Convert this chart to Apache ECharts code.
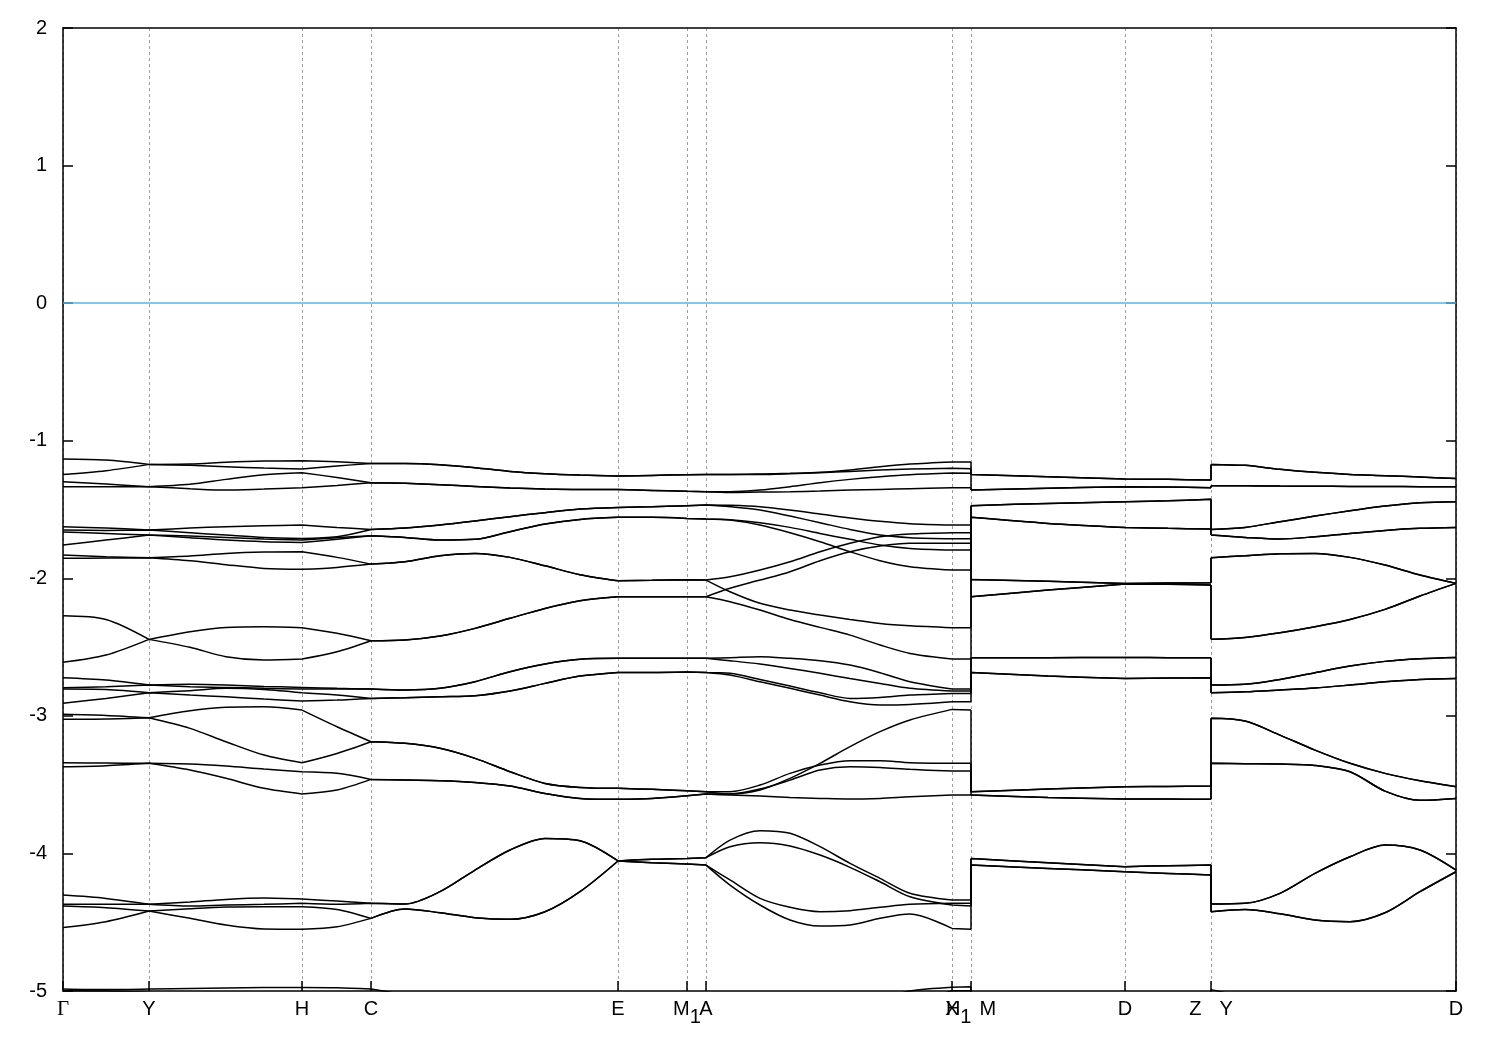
<!DOCTYPE html>
<html><head><meta charset="utf-8">
<script src="https://cdn.jsdelivr.net/npm/echarts@6/dist/echarts.min.js"></script>
<style>html,body{margin:0;padding:0;background:#fff}#chart{width:1500px;height:1050px}</style>
</head><body><div id="chart"></div>
<script>
// k-path distance of every sampled point (jumps repeat the same k)
const kGrid = [0.000,0.043,0.086,0.127,0.163,0.201,0.239,0.274,0.308,
 0.342,0.377,0.412,0.447,0.482,0.517,0.555,0.589,0.624,0.643,
 0.667,0.697,0.727,0.757,0.787,0.817,0.847,0.889,0.908,
 0.908,0.985,1.062,1.105,1.148,
 1.148,1.182,1.217,1.252,1.287,1.322,1.357,1.393];
// indices in kGrid where path segments start/end (high-symmetry points, jumps)
const segmentBreaks = [0,2,6,8,15,17,18,26,27,28,30,32,33,40];
// high-symmetry points
const kTicks = [0.000,0.086,0.239,0.308,0.555,0.624,0.643,0.889,0.908,1.062,1.148,1.393];
const kTickLabels = ['Γ','Y','H','C','E','M_1','A','X','H_1|M','D','Z|Y','D'];
// y axis
const yMin = -5, yMax = 2, yStep = 1;
const fermiLevel = 0;

// energies (eV) of each band at kGrid
const band01=[-1.133,-1.141,-1.172,-1.170,-1.157,-1.148,-1.145,-1.153,-1.165,-1.165,-1.174,-1.196,-1.223,-1.240,-1.250,-1.257,-1.252,-1.247,-1.245,-1.245,-1.242,-1.237,-1.230,-1.213,-1.189,-1.170,-1.155,-1.155,-1.245,-1.262,-1.279,-1.281,-1.286,-1.172,-1.179,-1.208,-1.230,-1.245,-1.254,-1.264,-1.274];
const band02=[-1.245,-1.218,-1.172,-1.179,-1.189,-1.199,-1.206,-1.184,-1.165,-1.165,-1.174,-1.196,-1.223,-1.240,-1.250,-1.257,-1.252,-1.247,-1.245,-1.245,-1.245,-1.240,-1.233,-1.223,-1.213,-1.206,-1.201,-1.203,-1.245,-1.262,-1.279,-1.281,-1.286,-1.172,-1.179,-1.208,-1.230,-1.245,-1.254,-1.264,-1.274];
const band03=[-1.298,-1.315,-1.334,-1.317,-1.281,-1.247,-1.233,-1.267,-1.305,-1.310,-1.320,-1.332,-1.344,-1.351,-1.354,-1.354,-1.361,-1.368,-1.371,-1.371,-1.359,-1.334,-1.305,-1.281,-1.262,-1.247,-1.235,-1.237,-1.359,-1.346,-1.334,-1.337,-1.342,-1.327,-1.328,-1.330,-1.331,-1.332,-1.333,-1.334,-1.335];
const band04=[-1.334,-1.334,-1.334,-1.349,-1.359,-1.351,-1.342,-1.325,-1.305,-1.310,-1.320,-1.332,-1.344,-1.351,-1.354,-1.354,-1.361,-1.368,-1.371,-1.376,-1.373,-1.371,-1.366,-1.359,-1.354,-1.349,-1.342,-1.342,-1.359,-1.346,-1.334,-1.337,-1.342,-1.327,-1.328,-1.330,-1.331,-1.332,-1.333,-1.334,-1.335];
const band05=[-1.625,-1.635,-1.649,-1.635,-1.625,-1.618,-1.613,-1.630,-1.645,-1.635,-1.613,-1.584,-1.552,-1.523,-1.497,-1.485,-1.480,-1.472,-1.468,-1.470,-1.480,-1.504,-1.533,-1.562,-1.586,-1.603,-1.613,-1.613,-1.472,-1.456,-1.443,-1.436,-1.426,-1.645,-1.630,-1.589,-1.548,-1.509,-1.475,-1.451,-1.443];
const band06=[-1.649,-1.652,-1.649,-1.669,-1.686,-1.703,-1.710,-1.698,-1.645,-1.635,-1.613,-1.584,-1.552,-1.523,-1.497,-1.485,-1.480,-1.472,-1.468,-1.480,-1.504,-1.548,-1.596,-1.645,-1.686,-1.705,-1.712,-1.712,-1.472,-1.456,-1.443,-1.436,-1.426,-1.645,-1.630,-1.589,-1.548,-1.509,-1.475,-1.451,-1.443];
const band07=[-1.664,-1.674,-1.686,-1.693,-1.703,-1.715,-1.722,-1.705,-1.691,-1.703,-1.722,-1.717,-1.661,-1.606,-1.572,-1.557,-1.557,-1.565,-1.569,-1.574,-1.596,-1.630,-1.674,-1.717,-1.758,-1.783,-1.795,-1.795,-1.557,-1.601,-1.630,-1.637,-1.642,-1.686,-1.703,-1.715,-1.698,-1.674,-1.652,-1.637,-1.630];
const band08=[-1.758,-1.722,-1.686,-1.705,-1.722,-1.734,-1.739,-1.717,-1.691,-1.703,-1.722,-1.717,-1.661,-1.606,-1.572,-1.557,-1.557,-1.565,-1.569,-1.577,-1.613,-1.669,-1.734,-1.807,-1.872,-1.916,-1.940,-1.940,-1.557,-1.601,-1.630,-1.637,-1.642,-1.686,-1.703,-1.715,-1.698,-1.674,-1.652,-1.637,-1.630];
const band09=[-1.831,-1.843,-1.850,-1.838,-1.819,-1.809,-1.807,-1.848,-1.897,-1.880,-1.836,-1.819,-1.848,-1.909,-1.974,-2.018,-2.015,-2.010,-2.013,-1.989,-1.940,-1.880,-1.807,-1.746,-1.698,-1.678,-1.669,-1.669,-2.008,-2.022,-2.037,-2.035,-2.032,-1.850,-1.836,-1.821,-1.819,-1.848,-1.904,-1.976,-2.037];
const band10=[-1.855,-1.853,-1.850,-1.872,-1.901,-1.928,-1.935,-1.921,-1.897,-1.880,-1.836,-1.819,-1.848,-1.909,-1.974,-2.018,-2.015,-2.010,-2.013,-2.098,-2.182,-2.231,-2.267,-2.299,-2.328,-2.345,-2.359,-2.359,-2.008,-2.022,-2.037,-2.035,-2.032,-1.850,-1.836,-1.821,-1.819,-1.848,-1.904,-1.976,-2.037];
const band11=[-2.272,-2.299,-2.444,-2.388,-2.357,-2.352,-2.359,-2.400,-2.454,-2.449,-2.420,-2.364,-2.291,-2.219,-2.163,-2.134,-2.134,-2.134,-2.134,-2.073,-2.013,-1.952,-1.872,-1.807,-1.766,-1.746,-1.746,-1.746,-2.134,-2.086,-2.042,-2.044,-2.049,-2.444,-2.430,-2.396,-2.352,-2.299,-2.226,-2.129,-2.037];
const band12=[-2.611,-2.558,-2.444,-2.502,-2.570,-2.594,-2.587,-2.534,-2.454,-2.449,-2.420,-2.364,-2.291,-2.219,-2.163,-2.134,-2.134,-2.134,-2.134,-2.170,-2.231,-2.299,-2.357,-2.413,-2.485,-2.546,-2.587,-2.587,-2.134,-2.086,-2.042,-2.044,-2.049,-2.444,-2.430,-2.396,-2.352,-2.299,-2.226,-2.129,-2.037];
const band13=[-2.723,-2.740,-2.776,-2.771,-2.776,-2.786,-2.793,-2.800,-2.805,-2.812,-2.800,-2.752,-2.679,-2.623,-2.589,-2.582,-2.582,-2.582,-2.582,-2.577,-2.570,-2.582,-2.599,-2.631,-2.686,-2.752,-2.805,-2.805,-2.577,-2.577,-2.575,-2.577,-2.577,-2.776,-2.771,-2.735,-2.686,-2.638,-2.604,-2.585,-2.575];
const band14=[-2.795,-2.788,-2.776,-2.788,-2.793,-2.800,-2.805,-2.805,-2.805,-2.812,-2.800,-2.752,-2.679,-2.623,-2.589,-2.582,-2.582,-2.582,-2.582,-2.599,-2.623,-2.655,-2.691,-2.728,-2.764,-2.800,-2.820,-2.820,-2.577,-2.577,-2.575,-2.577,-2.577,-2.776,-2.771,-2.735,-2.686,-2.638,-2.604,-2.585,-2.575];
const band15=[-2.805,-2.808,-2.832,-2.817,-2.800,-2.808,-2.832,-2.849,-2.873,-2.868,-2.861,-2.854,-2.820,-2.764,-2.711,-2.684,-2.684,-2.681,-2.684,-2.691,-2.735,-2.783,-2.832,-2.873,-2.866,-2.849,-2.837,-2.837,-2.684,-2.711,-2.728,-2.725,-2.723,-2.832,-2.825,-2.812,-2.798,-2.776,-2.752,-2.735,-2.728];
const band16=[-2.909,-2.873,-2.832,-2.849,-2.861,-2.878,-2.892,-2.885,-2.873,-2.868,-2.861,-2.854,-2.820,-2.764,-2.711,-2.684,-2.684,-2.681,-2.684,-2.703,-2.752,-2.800,-2.849,-2.897,-2.921,-2.917,-2.897,-2.897,-2.684,-2.711,-2.728,-2.725,-2.723,-2.832,-2.825,-2.812,-2.798,-2.776,-2.752,-2.735,-2.728];
const band17=[-2.989,-2.997,-3.014,-2.963,-2.938,-2.934,-2.958,-3.079,-3.188,-3.200,-3.236,-3.309,-3.406,-3.491,-3.520,-3.527,-3.534,-3.544,-3.551,-3.568,-3.539,-3.454,-3.345,-3.224,-3.115,-3.030,-2.953,-2.958,-3.551,-3.532,-3.515,-3.513,-3.510,-3.018,-3.038,-3.140,-3.249,-3.345,-3.418,-3.472,-3.515];
const band18=[-3.025,-3.023,-3.014,-3.091,-3.188,-3.285,-3.341,-3.273,-3.188,-3.200,-3.236,-3.309,-3.406,-3.491,-3.520,-3.527,-3.534,-3.544,-3.551,-3.551,-3.503,-3.418,-3.358,-3.326,-3.326,-3.341,-3.345,-3.345,-3.551,-3.532,-3.515,-3.513,-3.510,-3.018,-3.038,-3.140,-3.249,-3.345,-3.418,-3.472,-3.515];
const band19=[-3.341,-3.343,-3.345,-3.350,-3.365,-3.387,-3.406,-3.418,-3.462,-3.467,-3.471,-3.484,-3.510,-3.564,-3.600,-3.607,-3.600,-3.580,-3.568,-3.568,-3.532,-3.467,-3.394,-3.370,-3.375,-3.389,-3.401,-3.401,-3.576,-3.593,-3.605,-3.605,-3.607,-3.345,-3.348,-3.350,-3.360,-3.406,-3.547,-3.614,-3.600];
const band20=[-3.370,-3.362,-3.345,-3.394,-3.454,-3.527,-3.568,-3.539,-3.462,-3.467,-3.471,-3.484,-3.510,-3.564,-3.600,-3.607,-3.600,-3.580,-3.568,-3.576,-3.583,-3.593,-3.600,-3.605,-3.600,-3.588,-3.576,-3.576,-3.576,-3.593,-3.605,-3.605,-3.607,-3.345,-3.348,-3.350,-3.360,-3.406,-3.547,-3.614,-3.600];
const band21=[-4.303,-4.327,-4.370,-4.353,-4.334,-4.324,-4.332,-4.346,-4.363,-4.368,-4.278,-4.121,-3.975,-3.891,-3.908,-4.055,-4.043,-4.037,-4.031,-3.903,-3.835,-3.854,-3.951,-4.072,-4.181,-4.290,-4.339,-4.339,-4.036,-4.068,-4.097,-4.089,-4.085,-4.368,-4.363,-4.290,-4.145,-4.024,-3.939,-3.975,-4.121];
const band22=[-4.370,-4.370,-4.370,-4.383,-4.375,-4.370,-4.363,-4.370,-4.363,-4.368,-4.278,-4.121,-3.975,-3.891,-3.908,-4.055,-4.043,-4.037,-4.031,-3.951,-3.922,-3.946,-4.012,-4.101,-4.206,-4.315,-4.375,-4.383,-4.036,-4.068,-4.097,-4.089,-4.085,-4.368,-4.363,-4.290,-4.145,-4.024,-3.939,-3.975,-4.121];
const band23=[-4.383,-4.395,-4.419,-4.402,-4.390,-4.387,-4.387,-4.407,-4.472,-4.404,-4.431,-4.467,-4.479,-4.424,-4.278,-4.055,-4.068,-4.077,-4.085,-4.193,-4.327,-4.392,-4.424,-4.416,-4.392,-4.370,-4.363,-4.363,-4.085,-4.109,-4.133,-4.145,-4.157,-4.424,-4.407,-4.438,-4.484,-4.496,-4.431,-4.278,-4.133];
const band24=[-4.538,-4.496,-4.419,-4.472,-4.521,-4.550,-4.552,-4.533,-4.472,-4.404,-4.431,-4.467,-4.479,-4.424,-4.278,-4.055,-4.068,-4.077,-4.085,-4.230,-4.375,-4.484,-4.528,-4.521,-4.472,-4.441,-4.545,-4.552,-4.085,-4.109,-4.133,-4.145,-4.157,-4.424,-4.407,-4.438,-4.484,-4.496,-4.431,-4.278,-4.133];
const band25=[-4.985,-4.990,-4.985,-4.982,-4.978,-4.975,-4.974,-4.976,-4.986,-5.030,-5.100,-5.150,-5.200,-5.200,-5.200,-5.200,-5.200,-5.200,-5.200,-5.200,-5.200,-5.200,-5.200,-5.150,-5.060,-5.000,-4.972,-4.970,-5.200,-5.200,-5.200,-5.200,-5.200,-4.990,-5.050,-5.150,-5.200,-5.200,-5.200,-5.200,-5.200];
const band26=[-4.998,-5.000,-5.010,-5.020,-5.020,-5.020,-5.020,-5.020,-5.030,-5.100,-5.200,-5.250,-5.300,-5.300,-5.300,-5.300,-5.300,-5.300,-5.300,-5.300,-5.300,-5.300,-5.300,-5.300,-5.200,-5.100,-4.998,-4.998,-5.300,-5.300,-5.300,-5.300,-5.300,-5.300,-5.300,-5.300,-5.300,-5.300,-5.300,-5.300,-5.300];

const bands=[band01,band02,band03,band04,band05,band06,band07,band08,band09,band10,band11,band12,band13,band14,band15,band16,band17,band18,band19,band20,band21,band22,band23,band24,band25,band26];

// one polyline per band, broken between path segments so smoothing stays inside a segment
function bandData(b){
  const out=[];
  for(let s=0;s<segmentBreaks.length-1;s++){
    for(let c=segmentBreaks[s];c<=segmentBreaks[s+1];c++) out.push([kGrid[c],b[c]]);
    if(s<segmentBreaks.length-2) out.push(null);
  }
  return out;
}

const FONT='Liberation Sans';
const FS=20;
function tickLabel(v){
  let i=-1;
  for(let j=0;j<kTicks.length;j++){ if(Math.abs(kTicks[j]-v)<1e-6){i=j;break;} }
  if(i<0) return '';
  const parts = kTickLabels[i].split('|').map(p=>{
    if(p==='Γ') return '{g|Γ}';
    const m = p.match(/^(.*)_(.)$/);
    if(m) return '{n|'+m[1]+'}{s|'+m[2]+'}';
    return '{n|'+p+'}';
  });
  if(parts.length===2){
    return parts[0]+(kTickLabels[i].startsWith('H')?'{sp8| }':'{sp18| }')+parts[1];
  }
  return parts[0];
}

const chart = echarts.init(document.getElementById('chart'), null, {renderer:'canvas'});
const series = bands.map(b=>({
  type:'line', data:bandData(b), showSymbol:false, symbol:'none', silent:true, z:3,
  smooth:0.3, connectNulls:false,
  lineStyle:{color:'#000', width:1.5}, animation:false, clip:true
}));
series.push({
  type:'line', data:[], z:2, silent:true, animation:false,
  markLine:{ silent:true, symbol:['none','none'], animation:false, label:{show:false},
    data: [{yAxis:fermiLevel, lineStyle:{type:'solid', color:'#56b4e9', width:1.5}}]
  }
});

chart.setOption({
  animation:false,
  backgroundColor:'#fff',
  grid:{left:63, right:44, top:28, bottom:59, show:false},
  xAxis:[{
    type:'value', min:kTicks[0], max:kTicks[kTicks.length-1], position:'bottom',
    axisLine:{show:true, onZero:false, lineStyle:{color:'#000', width:1.5}},
    axisTick:{show:true, inside:true, length:10, customValues:kTicks, lineStyle:{color:'#000', width:1.5}},
    axisLabel:{show:true, customValues:kTicks, margin:8, formatter:tickLabel, color:'#000',
      fontFamily:FONT, fontSize:FS,
      rich:{ n:{fontFamily:FONT, fontSize:FS, color:'#000', verticalAlign:'top'},
             g:{fontFamily:'Liberation Serif', fontSize:FS+1, color:'#000', verticalAlign:'top'},
             s:{fontFamily:FONT, fontSize:FS, color:'#000', verticalAlign:'top', padding:[8,0,0,0]},
             sp8:{width:8, fontSize:FS, verticalAlign:'top'},
             sp18:{width:18, fontSize:FS, verticalAlign:'top'} }},
    splitLine:{show:true, lineStyle:{type:[3,3], color:'#a0a0a0', width:1}}
  },{
    type:'value', min:kTicks[0], max:kTicks[kTicks.length-1], position:'top',
    axisLine:{show:true, onZero:false, lineStyle:{color:'#000', width:1.5}},
    axisTick:{show:false}, axisLabel:{show:false}, splitLine:{show:false}
  }],
  yAxis:[{
    type:'value', min:yMin, max:yMax, interval:yStep, position:'left',
    axisLine:{show:true, onZero:false, lineStyle:{color:'#000', width:1.5}},
    axisTick:{show:true, inside:true, length:10, lineStyle:{color:'#000', width:1.5}},
    axisLabel:{margin:16, color:'#000', fontFamily:FONT, fontSize:FS},
    splitLine:{show:false}
  },{
    type:'value', min:yMin, max:yMax, interval:yStep, position:'right',
    axisLine:{show:true, onZero:false, lineStyle:{color:'#000', width:1.5}},
    axisTick:{show:true, inside:true, length:10, lineStyle:{color:'#000', width:1.5}},
    axisLabel:{show:false}, splitLine:{show:false}
  }],
  series: series
});
</script></body></html>
